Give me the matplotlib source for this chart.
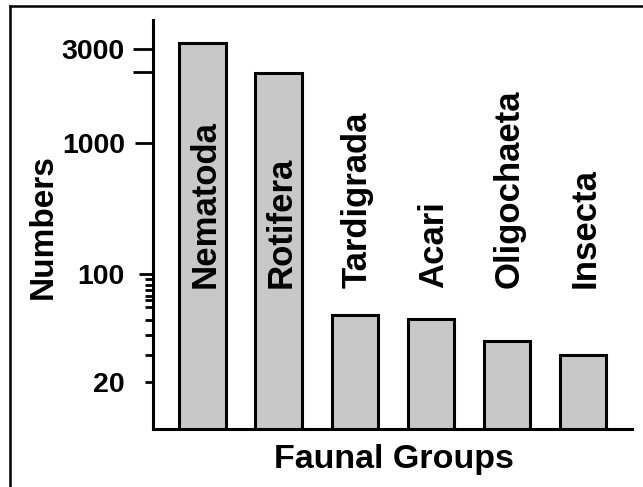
import numpy as np
import matplotlib
matplotlib.use("Agg")
import matplotlib.pyplot as plt
from matplotlib.lines import Line2D
from matplotlib.transforms import blended_transform_factory

groups = ["Nematoda", "Rotifera", "Tardigrada", "Acari", "Oligochaeta", "Insecta"]
numbers = [3200, 2250, 54, 51, 37, 30]

major_ticks = [20, 100, 1000, 2300, 3000]
major_labels = ["20", "100", "1000", "", "3000"]
minor_ticks = [92, 85, 78, 72, 68, 61, 50, 40, 30]

plt.rcParams['font.family'] = ['Liberation Sans', 'DejaVu Sans']
plt.rcParams['font.weight'] = 'bold'

# the original y axis is hand drawn: decades are not equally long.
# anchor values and their heights on the axis (px above the "20" mark)
anchor_v = np.log10([20, 100, 1000, 3000])
anchor_h = np.array([0.0, 108.0, 239.0, 333.0])
lo_slope = (anchor_h[1] - anchor_h[0]) / (anchor_v[1] - anchor_v[0])
hi_slope = (anchor_h[3] - anchor_h[2]) / (anchor_v[3] - anchor_v[2])
ext_v = np.concatenate([[-3.0], anchor_v, [6.0]])
ext_h = np.concatenate([[anchor_h[0] - lo_slope * (anchor_v[0] + 3.0)], anchor_h,
                        [anchor_h[3] + hi_slope * (6.0 - anchor_v[3])]])

def fwd(v):
    v = np.maximum(np.asarray(v, dtype=float), 1e-3)
    return np.interp(np.log10(v), ext_v, ext_h)

def inv(h):
    return 10 ** np.interp(np.asarray(h, dtype=float), ext_h, ext_v)

fig = plt.figure(figsize=(6.43, 4.87), dpi=100)
ax = fig.add_axes([153/643, 1 - 429/487, (632 - 153)/643, (429 - 20)/487])
ax.set_yscale('function', functions=(fwd, inv))

x = np.arange(len(groups))
ax.bar(x, [n - 1 for n in numbers], bottom=1, width=0.61, color='#c8c8c8',
       edgecolor='black', linewidth=2.2, zorder=2)

ax.set_xlim(-0.65, 5.64)
ax.set_ylim(9.9, 4200)

ax.set_yticks(major_ticks)
ax.set_yticklabels(major_labels)
ax.set_yticks(minor_ticks, minor=True)
ax.yaxis.set_minor_formatter(plt.NullFormatter())
ax.set_xticks([])

ax.tick_params(axis='y', which='major', length=10, width=2, pad=10.2, labelsize=20.5)
ax.tick_params(axis='y', which='minor', length=5.8, width=2)
tick_len_px = [8, 14, 18, 20, 20]
for t, l in zip(ax.yaxis.get_major_ticks(), tick_len_px):
    t.tick1line.set_markersize(l * 0.72)

for s in ['top', 'right']:
    ax.spines[s].set_visible(False)
for s in ['left', 'bottom']:
    ax.spines[s].set_linewidth(2.2)

# group names, written upright from a common baseline
trans = blended_transform_factory(ax.transData, ax.transAxes)
for xi, name in zip(x, groups):
    ax.text(xi + 0.03, 0.345, name, rotation=90, ha='center', va='bottom',
            fontsize=25, fontweight='bold', transform=trans, zorder=3)

fig.text(394/643, 1 - 468/487, "Faunal Groups", ha='center', va='baseline',
         fontsize=24.5, fontweight='bold')
fig.text(43/643, 1 - 227/487, "Numbers", ha='center', va='center', rotation=90,
         fontsize=24, fontweight='bold')

# frame of the original figure (only top and left edges are visible)
fig.add_artist(Line2D([10/643, 10/643], [0, 1 - 6/487], transform=fig.transFigure,
                      color='black', linewidth=1.8))
fig.add_artist(Line2D([10/643, 1], [1 - 6/487, 1 - 6/487], transform=fig.transFigure,
                      color='black', linewidth=1.8))

plt.savefig("out.png", dpi=100)
